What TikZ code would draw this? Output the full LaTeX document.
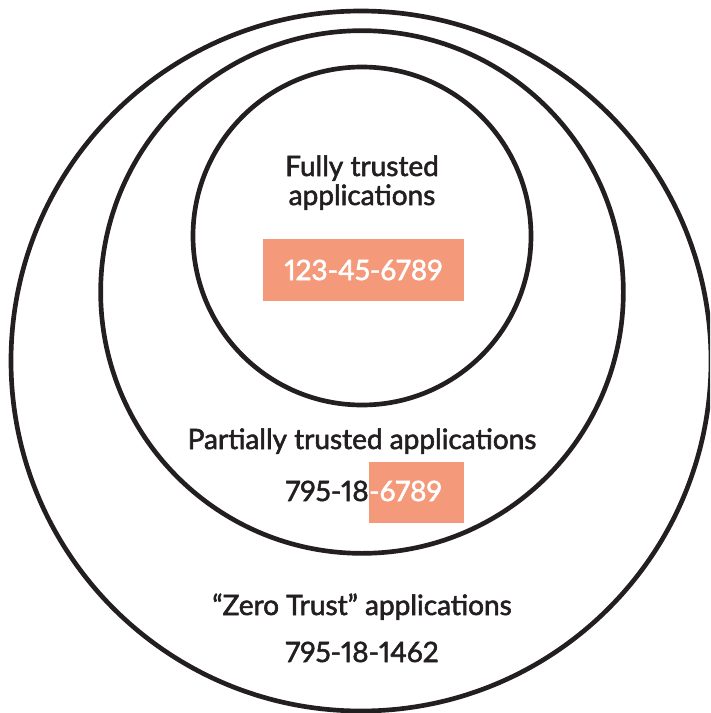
\documentclass[tikz,border=0pt]{standalone}
\usepackage{fontspec}
\setmainfont{Lato}[Numbers=Proportional,FakeBold=2]
\usetikzlibrary{positioning}

\definecolor{ink}{HTML}{231F20}
\definecolor{salmon}{HTML}{F5997B}

\begin{document}
\begin{tikzpicture}[x=0.75pt,y=-0.75pt,
  ring/.style={draw=ink,line width=3.5pt,circle,inner sep=0pt},
  txt/.style={text=ink,inner sep=0pt,font=\fontsize{21}{25}\selectfont},
  hibox/.style={fill=salmon,inner sep=0pt,text=white,font=\fontsize{21}{25}\selectfont}
]
\useasboundingbox (0,0) rectangle (710,713);
\clip (0,0) rectangle (710,713);

% the three trust zones
\node[ring,minimum size=525pt] (outer) at (361,361) {};
\node[ring,minimum size=392pt] (middle) at (362,292) {};
\node[ring,minimum size=253.5pt] (inner) at (362,236) {};

% inner zone
\node[txt,anchor=base] (fully) at (362,176) {Fully trusted};
\node[txt,anchor=base] (fullyapps) at (362,205) {applications};
\node[hibox,minimum width=150.75pt,minimum height=46.5pt] (fullyid) at (363.5,270) {123-45-6789};

% middle zone
\node[txt,anchor=base] (partial) at (362,449) {Partially trusted applications};
\node[hibox,anchor=north west,minimum width=71.25pt,minimum height=45.75pt] (partbox) at (369,462) {};
\node[txt,text=white,anchor=base west] (parttail) at (369,501) {-6789};
\node[txt,anchor=base east] (parthead) at (parttail.base west) {795-18};

% outer zone
\node[txt,anchor=base] (zero) at (362,615) {“Zero Trust” applications};
\node[txt,anchor=base] (zeroid) at (362,662) {795-18-1462};
\end{tikzpicture}
\end{document}
